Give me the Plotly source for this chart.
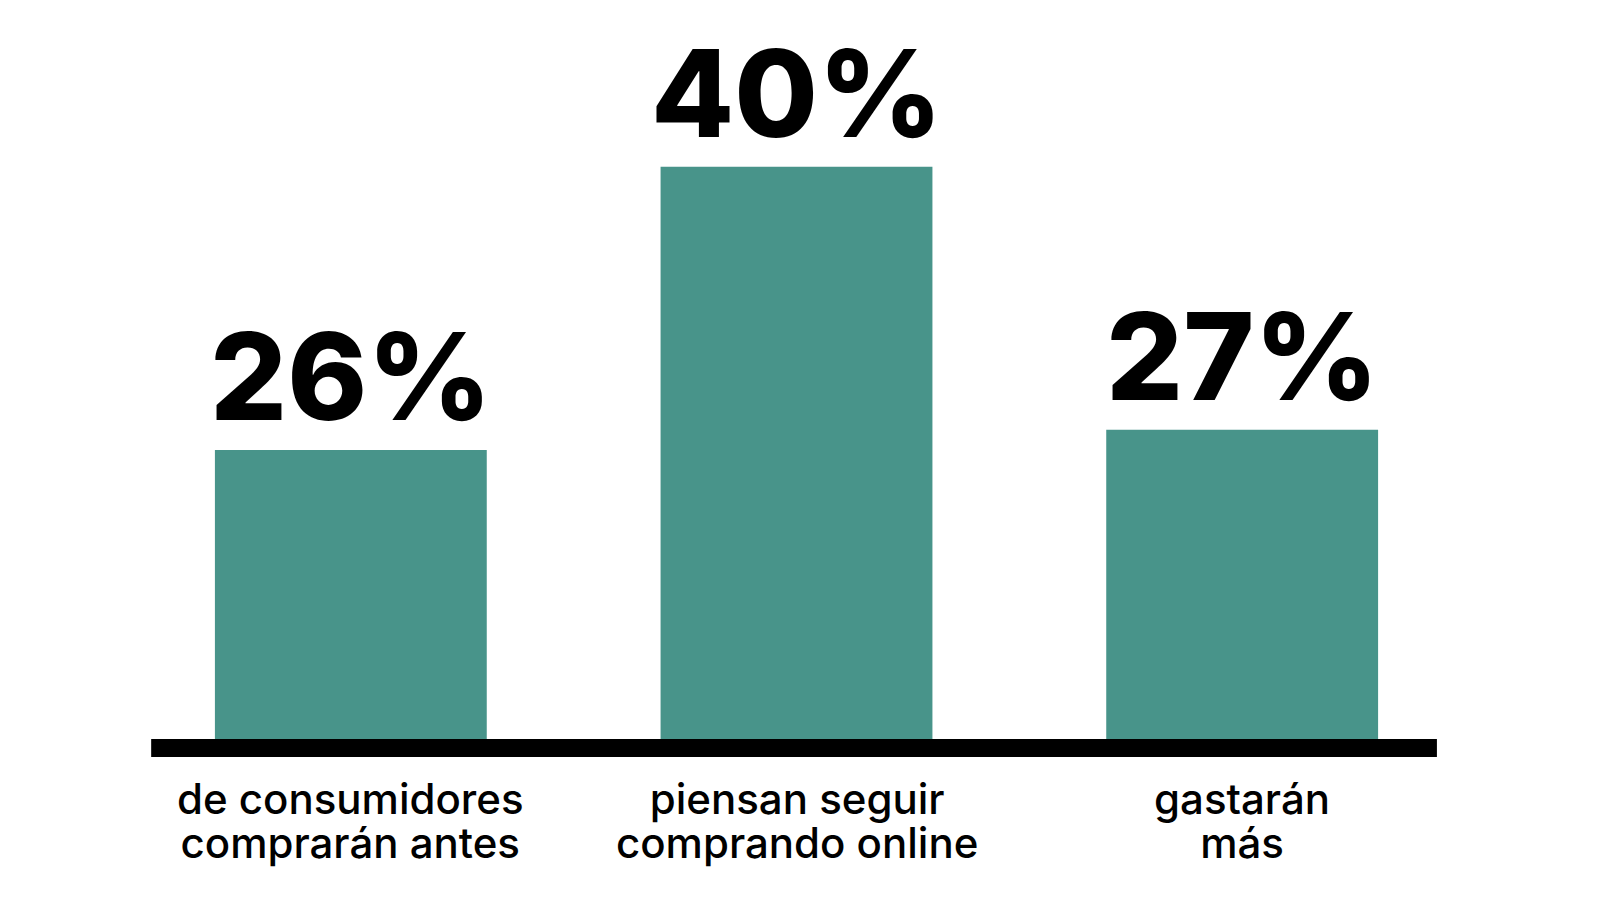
import plotly.graph_objects as go

categories = ["de consumidores<br>comprarán antes",
              "piensan seguir<br>comprando online",
              "gastarán<br>más"]
values = [26, 40, 27]
value_labels = ["26%", "40%", "27%"]

bar_color = "#48948a"

fig = go.Figure()
fig.add_trace(go.Bar(x=categories, y=values, marker_color=bar_color,
                     marker_line_width=0, hoverinfo="skip"))

# value labels above bars
for c, v, t in zip(categories, values, value_labels):
    fig.add_annotation(x=c, y=v, text=t, showarrow=False, yanchor="bottom",
                       yshift=-1,
                       font=dict(family="Inter", size=121, color="black",
                                 weight=800))

# category labels below the baseline: glyphs at 42px, tight leading
# (line spacing is 1.3em of the base font size 34px -> ~44px)
for c in categories:
    lines = c.split("<br>")
    txt = "<br>".join("<span style='font-size:42px'>%s</span>" % s for s in lines)
    fig.add_annotation(x=c, y=0, xref="x", yref="paper", text=txt,
                       showarrow=False, yanchor="top", xanchor="center",
                       yshift=-23, align="center",
                       font=dict(family="Inter", size=34, color="black",
                                 weight=500))

# baseline
fig.add_shape(type="line", xref="x", yref="paper", x0=-0.448, x1=2.437,
              y0=0, y1=0, line=dict(color="black", width=18))

fig.update_layout(
    width=1600, height=900,
    margin=dict(l=120, r=143, t=30, b=160),
    paper_bgcolor="white", plot_bgcolor="white",
    bargap=0.39,
    showlegend=False,
    xaxis=dict(showgrid=False, zeroline=False, showline=False, ticks="",
               showticklabels=False, range=[-0.5, 2.5]),
    yaxis=dict(range=[11.27, 46.36], visible=False, showgrid=False),
)

fig.write_html("out.html")
